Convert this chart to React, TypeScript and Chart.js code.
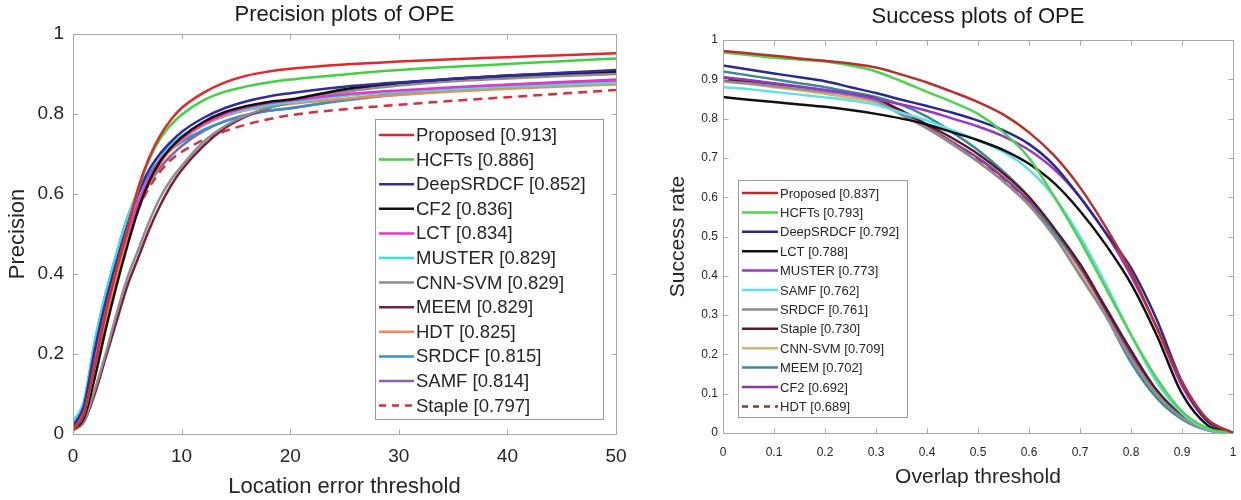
import React, { useEffect, useRef } from "react";
import { Chart, registerables } from "chart.js";

Chart.register(...registerables);

const FONT = "'Liberation Sans', Arial, Helvetica, sans-serif";
const TEXT = "#262626";
const FRAME = "#a8a8a8";

// ---------- Precision plots of OPE ----------
const precTitle = "Precision plots of OPE";
const precXLabel = "Location error threshold";
const precYLabel = "Precision";
const precThresholds = [0, 1, 2, 3, 4, 5, 6, 7, 8, 9, 10, 12, 14, 16, 18, 20, 25, 30, 35, 40, 45, 50];
const precNames = [
  "Proposed [0.913]", "HCFTs [0.886]", "DeepSRDCF [0.852]", "CF2 [0.836]", "LCT [0.834]", "MUSTER [0.829]",
  "CNN-SVM [0.829]", "MEEM [0.829]", "HDT [0.825]", "SRDCF [0.815]", "SAMF [0.814]", "Staple [0.797]",
];
const precProposed = [0.01, 0.05, 0.17, 0.3, 0.41, 0.51, 0.615, 0.69, 0.745, 0.785, 0.815, 0.853, 0.879, 0.896, 0.906, 0.913, 0.924, 0.931, 0.937, 0.942, 0.947, 0.952];
const precHCFTs = [0.01, 0.05, 0.17, 0.3, 0.41, 0.51, 0.61, 0.685, 0.737, 0.772, 0.798, 0.834, 0.856, 0.869, 0.879, 0.886, 0.899, 0.91, 0.918, 0.925, 0.932, 0.939];
const precDeepSRDCF = [0.02, 0.07, 0.21, 0.33, 0.43, 0.52, 0.6, 0.66, 0.7, 0.73, 0.755, 0.79, 0.815, 0.832, 0.844, 0.852, 0.868, 0.879, 0.888, 0.896, 0.903, 0.91];
const precCF2 = [0.01, 0.04, 0.14, 0.26, 0.37, 0.47, 0.56, 0.63, 0.68, 0.715, 0.742, 0.78, 0.805, 0.82, 0.83, 0.836, 0.862, 0.878, 0.888, 0.896, 0.902, 0.907];
const precLCT = [0.02, 0.06, 0.19, 0.31, 0.41, 0.5, 0.58, 0.64, 0.685, 0.715, 0.738, 0.775, 0.8, 0.816, 0.827, 0.834, 0.849, 0.859, 0.867, 0.873, 0.879, 0.884];
const precMUSTER = [0.03, 0.08, 0.23, 0.35, 0.45, 0.54, 0.61, 0.66, 0.695, 0.722, 0.745, 0.777, 0.798, 0.812, 0.822, 0.829, 0.845, 0.855, 0.862, 0.868, 0.873, 0.878];
const precCNNSVM = [0.01, 0.03, 0.11, 0.2, 0.3, 0.39, 0.46, 0.53, 0.59, 0.635, 0.67, 0.73, 0.77, 0.797, 0.816, 0.829, 0.855, 0.871, 0.882, 0.889, 0.895, 0.9];
const precMEEM = [0.01, 0.03, 0.1, 0.19, 0.28, 0.37, 0.44, 0.51, 0.57, 0.62, 0.66, 0.72, 0.765, 0.795, 0.815, 0.829, 0.857, 0.874, 0.885, 0.892, 0.898, 0.903];
const precHDT = [0.02, 0.06, 0.16, 0.28, 0.39, 0.48, 0.56, 0.625, 0.675, 0.71, 0.735, 0.772, 0.795, 0.81, 0.819, 0.825, 0.838, 0.848, 0.856, 0.863, 0.869, 0.874];
const precSRDCF = [0.03, 0.08, 0.23, 0.35, 0.45, 0.54, 0.6, 0.65, 0.685, 0.71, 0.73, 0.76, 0.782, 0.797, 0.808, 0.815, 0.834, 0.848, 0.858, 0.866, 0.872, 0.877];
const precSAMF = [0.02, 0.07, 0.2, 0.32, 0.42, 0.5, 0.57, 0.625, 0.665, 0.695, 0.72, 0.757, 0.782, 0.798, 0.808, 0.814, 0.836, 0.852, 0.864, 0.873, 0.88, 0.886];
const precStaple = [0.02, 0.06, 0.18, 0.3, 0.4, 0.49, 0.56, 0.615, 0.655, 0.685, 0.705, 0.735, 0.757, 0.774, 0.787, 0.797, 0.812, 0.823, 0.833, 0.842, 0.851, 0.86];
const precSeries = [
  precProposed, precHCFTs, precDeepSRDCF, precCF2, precLCT, precMUSTER,
  precCNNSVM, precMEEM, precHDT, precSRDCF, precSAMF, precStaple,
];
const precColors = [
  "#e3262b", "#3fd13f", "#2e2e9e", "#111111", "#f030c8", "#38e0e0",
  "#8e8e8e", "#7a2040", "#f08a50", "#3a8fd0", "#8a62a2", "#d4303a",
];
const precDashed = [false, false, false, false, false, false, false, false, false, false, false, true];

// ---------- Success plots of OPE ----------
const succTitle = "Success plots of OPE";
const succXLabel = "Overlap threshold";
const succYLabel = "Success rate";
const succThresholds = [0, 0.05, 0.1, 0.15, 0.2, 0.25, 0.3, 0.35, 0.4, 0.45, 0.5, 0.55, 0.6, 0.65, 0.7, 0.75, 0.8, 0.85, 0.9, 0.95, 1];
const succNames = [
  "Proposed [0.837]", "HCFTs [0.793]", "DeepSRDCF [0.792]", "LCT [0.788]", "MUSTER [0.773]", "SAMF [0.762]",
  "SRDCF [0.761]", "Staple [0.730]", "CNN-SVM [0.709]", "MEEM [0.702]", "CF2 [0.692]", "HDT [0.689]",
];
const succProposed = [0.972, 0.966, 0.96, 0.953, 0.947, 0.94, 0.93, 0.912, 0.892, 0.868, 0.842, 0.81, 0.765, 0.705, 0.625, 0.525, 0.41, 0.27, 0.13, 0.035, 0];
const succHCFTs = [0.968, 0.962, 0.955, 0.95, 0.945, 0.935, 0.92, 0.895, 0.868, 0.842, 0.812, 0.765, 0.7, 0.6, 0.49, 0.37, 0.25, 0.14, 0.055, 0.012, 0];
const succDeepSRDCF = [0.935, 0.925, 0.915, 0.905, 0.895, 0.88, 0.865, 0.848, 0.832, 0.815, 0.795, 0.77, 0.735, 0.68, 0.6, 0.51, 0.42, 0.29, 0.13, 0.03, 0];
const succLCT = [0.855, 0.848, 0.842, 0.836, 0.83, 0.822, 0.812, 0.8, 0.785, 0.765, 0.745, 0.72, 0.685, 0.635, 0.565, 0.48, 0.38, 0.25, 0.1, 0.02, 0];
const succMUSTER = [0.905, 0.898, 0.89, 0.882, 0.873, 0.863, 0.85, 0.836, 0.82, 0.8, 0.78, 0.755, 0.72, 0.67, 0.6, 0.51, 0.4, 0.27, 0.12, 0.03, 0];
const succSAMF = [0.88, 0.875, 0.868, 0.861, 0.854, 0.846, 0.835, 0.815, 0.795, 0.77, 0.745, 0.715, 0.67, 0.6, 0.5, 0.38, 0.25, 0.13, 0.05, 0.01, 0];
const succSRDCF = [0.895, 0.89, 0.883, 0.876, 0.868, 0.86, 0.845, 0.81, 0.775, 0.735, 0.69, 0.64, 0.58, 0.5, 0.4, 0.3, 0.19, 0.1, 0.04, 0.008, 0];
const succStaple = [0.9, 0.893, 0.886, 0.878, 0.87, 0.862, 0.85, 0.82, 0.785, 0.75, 0.71, 0.66, 0.6, 0.52, 0.43, 0.32, 0.21, 0.11, 0.045, 0.01, 0];
const succCNNSVM = [0.895, 0.888, 0.88, 0.872, 0.863, 0.853, 0.84, 0.81, 0.775, 0.735, 0.69, 0.64, 0.58, 0.5, 0.41, 0.3, 0.19, 0.1, 0.04, 0.008, 0];
const succMEEM = [0.92, 0.91, 0.9, 0.89, 0.88, 0.868, 0.855, 0.835, 0.805, 0.765, 0.72, 0.665, 0.6, 0.51, 0.41, 0.3, 0.18, 0.09, 0.035, 0.007, 0];
const succCF2 = [0.905, 0.897, 0.889, 0.88, 0.872, 0.862, 0.848, 0.815, 0.78, 0.74, 0.7, 0.65, 0.59, 0.51, 0.42, 0.31, 0.2, 0.105, 0.045, 0.01, 0];
const succHDT = [0.9, 0.892, 0.885, 0.877, 0.869, 0.86, 0.848, 0.815, 0.778, 0.738, 0.695, 0.645, 0.585, 0.505, 0.415, 0.31, 0.2, 0.1, 0.04, 0.008, 0];
const succSeries = [
  succProposed, succHCFTs, succDeepSRDCF, succLCT, succMUSTER, succSAMF,
  succSRDCF, succStaple, succCNNSVM, succMEEM, succCF2, succHDT,
];
const succColors = [
  "#b8302c", "#4fd24f", "#2a2a8c", "#111111", "#9a35c8", "#5ee0ea",
  "#8c8c8c", "#5a1a1e", "#d8b070", "#3a8a9a", "#8a3aa0", "#8b3a2a",
];
const succDashed = [false, false, false, false, false, false, false, false, false, false, false, true];

// ---------- plugins ----------
const frameTicksPlugin = {
  id: "frameTicks",
  afterDatasetsDraw(chart: any, _args: any, opts: any) {
    const { ctx, chartArea: a, scales } = chart;
    ctx.save();
    ctx.strokeStyle = opts.color || FRAME;
    ctx.lineWidth = 1;
    const L = Math.round(a.left) + 0.5;
    const R = Math.round(a.right) + 0.5;
    const T = Math.round(a.top) + 0.5;
    const B = Math.round(a.bottom) + 0.5;
    ctx.strokeRect(L, T, R - L, B - T);
    const len = opts.length || 5;
    ctx.beginPath();
    scales.x.ticks.forEach((t: any) => {
      const px = Math.round(scales.x.getPixelForValue(t.value)) + 0.5;
      ctx.moveTo(px, B);
      ctx.lineTo(px, B - len);
      ctx.moveTo(px, T);
      ctx.lineTo(px, T + len);
    });
    scales.y.ticks.forEach((t: any) => {
      const py = Math.round(scales.y.getPixelForValue(t.value)) + 0.5;
      ctx.moveTo(L, py);
      ctx.lineTo(L + len, py);
      ctx.moveTo(R, py);
      ctx.lineTo(R - len, py);
    });
    ctx.stroke();
    ctx.restore();
  },
};

const boxLegendPlugin = {
  id: "boxLegend",
  afterDatasetsDraw(chart: any, _args: any, o: any) {
    const ctx = chart.ctx;
    ctx.save();
    ctx.fillStyle = "#ffffff";
    ctx.fillRect(o.left, o.top, o.width, o.height);
    ctx.strokeStyle = o.borderColor;
    ctx.lineWidth = 1;
    ctx.strokeRect(o.left + 0.5, o.top + 0.5, o.width, o.height);
    chart.data.datasets.forEach((ds: any, i: number) => {
      const y = o.firstRow + i * o.rowHeight;
      ctx.beginPath();
      ctx.setLineDash(ds.borderDash && ds.borderDash.length ? o.dash : []);
      ctx.strokeStyle = ds.borderColor;
      ctx.lineWidth = ds.borderWidth;
      ctx.moveTo(o.lineStart, y);
      ctx.lineTo(o.lineEnd, y);
      ctx.stroke();
      ctx.setLineDash([]);
      ctx.fillStyle = o.color;
      ctx.font = `${o.fontSize}px ${FONT}`;
      ctx.textBaseline = "middle";
      ctx.textAlign = "left";
      ctx.fillText(ds.label, o.textX, y + 1);
    });
    ctx.restore();
  },
};

const tickText = (v: any) => String(Math.round(Number(v) * 100) / 100);

function buildDatasets(xs: number[], series: number[][], names: string[], colors: string[], dashed: boolean[], width: number) {
  return series.map((vals, i) => ({
    label: names[i],
    data: xs.map((x, j) => ({ x, y: vals[j] })),
    borderColor: colors[i],
    backgroundColor: colors[i],
    borderWidth: width,
    borderDash: dashed[i] ? [9, 6] : [],
    pointRadius: 0,
    fill: false,
    cubicInterpolationMode: "monotone" as const,
  }));
}

function makeConfig(p: any) {
  return {
    type: "line" as const,
    data: { datasets: p.datasets },
    plugins: [frameTicksPlugin, boxLegendPlugin],
    options: {
      responsive: false,
      animation: false as const,
      events: [],
      layout: { padding: { left: 0, right: p.padRight, top: 0, bottom: 0 } },
      scales: {
        x: {
          type: "linear" as const,
          min: p.xMin,
          max: p.xMax,
          afterFit: (s: any) => {
            s.height = p.xHeight;
            s.paddingLeft = 0;
            s.paddingRight = 0;
          },
          grid: { display: false, drawTicks: false },
          border: { display: false },
          ticks: { stepSize: p.xStep, color: TEXT, font: { size: p.tickSize, family: FONT }, padding: p.xTickPad, maxRotation: 0, autoSkip: false, callback: tickText },
          title: { display: true, text: p.xLabel, color: TEXT, font: { size: p.axisTitleSize, family: FONT }, padding: { top: 0, bottom: p.xTitlePad } },
        },
        y: {
          type: "linear" as const,
          min: 0,
          max: 1,
          afterFit: (s: any) => { s.width = p.yWidth; },
          grid: { display: false, drawTicks: false },
          border: { display: false },
          ticks: { stepSize: p.yStep, color: TEXT, font: { size: p.tickSize, family: FONT }, padding: p.yTickPad, autoSkip: false, callback: tickText },
          title: { display: true, text: p.yLabel, color: TEXT, font: { size: p.axisTitleSize, family: FONT }, padding: { top: p.yTitlePad, bottom: 0 } },
        },
      },
      plugins: {
        legend: { display: false },
        tooltip: { enabled: false },
        title: {
          display: true,
          text: p.title,
          color: "#1a1a1a",
          fullSize: false,
          font: { size: p.titleSize, family: FONT, weight: "normal" as const },
          padding: { top: p.titlePadTop, bottom: p.titlePadBottom },
        },
        frameTicks: { color: FRAME, length: 5 },
        boxLegend: p.legend,
      },
    },
  };
}

function ChartCanvas({ config, left, width }: { config: any; left: number; width: number }) {
  const ref = useRef<HTMLCanvasElement | null>(null);
  useEffect(() => {
    if (!ref.current) return;
    const chart = new Chart(ref.current, config);
    return () => chart.destroy();
  }, [config]);
  return (
    <canvas
      ref={ref}
      width={width}
      height={500}
      style={{ position: "absolute", left, top: 0, width, height: 500 }}
    />
  );
}

const leftConfig = makeConfig({
  datasets: buildDatasets(precThresholds, precSeries, precNames, precColors, precDashed, 2.5),
  title: precTitle, xLabel: precXLabel, yLabel: precYLabel,
  xMin: 0, xMax: 50, xStep: 10, yStep: 0.2,
  padRight: 24, xHeight: 66, yWidth: 73,
  tickSize: 19, xTickPad: 11, yTickPad: 9,
  axisTitleSize: 22, xTitlePad: 0, yTitlePad: 5,
  titleSize: 22, titlePadTop: 2, titlePadBottom: 5.6,
  legend: {
    left: 375, top: 119, width: 228, height: 300, borderColor: "#9a9a9a",
    firstRow: 135, rowHeight: 24.6, lineStart: 379, lineEnd: 414, textX: 416,
    fontSize: 18.5, color: TEXT, dash: [7, 6],
  },
});

const rightConfig = makeConfig({
  datasets: buildDatasets(succThresholds, succSeries, succNames, succColors, succDashed, 2.5),
  title: succTitle, xLabel: succXLabel, yLabel: succYLabel,
  xMin: 0, xMax: 1, xStep: 0.1, yStep: 0.1,
  padRight: 8, xHeight: 67, yWidth: 103,
  tickSize: 12, xTickPad: 12.8, yTickPad: 5,
  axisTitleSize: 21, xTitlePad: 10.4, yTitlePad: 46,
  titleSize: 22, titlePadTop: 4, titlePadBottom: 9.6,
  legend: {
    left: 118, top: 180, width: 169, height: 237, borderColor: "#9a9a9a",
    firstRow: 193, rowHeight: 19.4, lineStart: 122, lineEnd: 158, textX: 160,
    fontSize: 13, color: TEXT, dash: [6, 5],
  },
});

export default function App() {
  return (
    <div style={{ position: "absolute", left: 0, top: 0, width: 1241, height: 500, background: "#ffffff", overflow: "hidden" }}>
      <ChartCanvas config={leftConfig} left={0} width={640} />
      <ChartCanvas config={rightConfig} left={620} width={621} />
    </div>
  );
}
